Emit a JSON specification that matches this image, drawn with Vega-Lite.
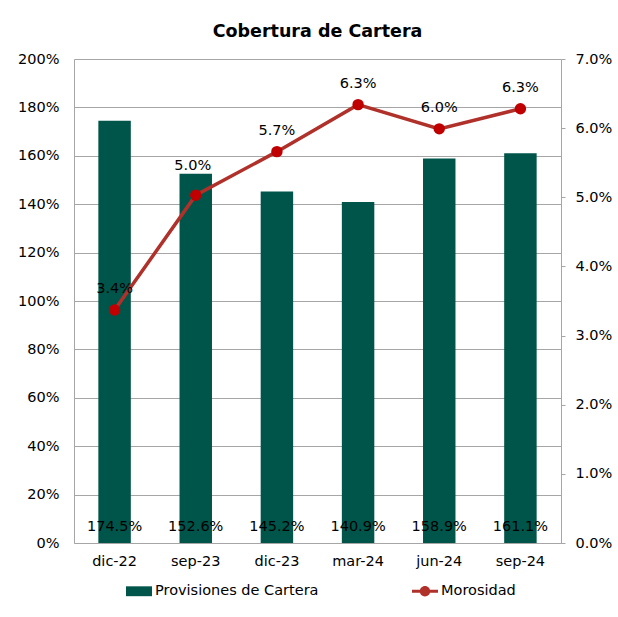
{
  "$schema": "https://vega.github.io/schema/vega-lite/v6.json",
  "width": 487,
  "height": 484,
  "autosize": {"type": "none"},
  "padding": {"left": 74, "top": 59, "right": 57, "bottom": 74},
  "background": "white",
  "config": {
    "font": "DejaVu Sans",
    "view": {"stroke": null},
    "axis": {"labelFont": "DejaVu Sans", "labelFontSize": 14.5, "labelColor": "black", "domainColor": "#a6a6a6", "gridColor": "#a6a6a6", "tickColor": "#a6a6a6"}
  },
  "title": {"text": "Cobertura de Cartera", "fontSize": 17.5, "fontWeight": "bold", "color": "black", "font": "DejaVu Sans", "anchor": "middle", "offset": 18, "baseline": "bottom", "dy": 25},
  "data": {
    "values": [
      {"periodo": "dic-22", "provisiones": 1.745, "morosidad": 0.0337},
      {"periodo": "sep-23", "provisiones": 1.526, "morosidad": 0.0503},
      {"periodo": "dic-23", "provisiones": 1.452, "morosidad": 0.0566},
      {"periodo": "mar-24", "provisiones": 1.409, "morosidad": 0.0634},
      {"periodo": "jun-24", "provisiones": 1.589, "morosidad": 0.0599},
      {"periodo": "sep-24", "provisiones": 1.611, "morosidad": 0.0628}
    ]
  },
  "encoding": {
    "x": {
      "field": "periodo", "type": "nominal", "sort": null,
      "scale": {"paddingInner": 0.6, "paddingOuter": 0.3},
      "axis": {"title": null, "labelAngle": 0, "ticks": false, "labelPadding": 11, "grid": false}
    }
  },
  "layer": [
    {
      "encoding": {
        "y": {
          "field": "provisiones", "type": "quantitative",
          "scale": {"domain": [0, 2]},
          "axis": {"title": null, "format": ".0%", "values": [0, 0.2, 0.4, 0.6, 0.8, 1, 1.2, 1.4, 1.6, 1.8, 2], "grid": true, "ticks": false, "labelPadding": 15}
        }
      },
      "layer": [
        {
          "mark": {"type": "bar"},
          "encoding": {
            "color": {
              "datum": "Provisiones de Cartera", "type": "nominal",
              "scale": {"domain": ["Provisiones de Cartera", "Morosidad"], "range": ["#00554A", "#B0302A"]},
              "legend": {
                "orient": "none", "legendX": 52, "legendY": 519, "direction": "horizontal", "title": null,
                "symbolSize": 676, "labelFontSize": 14.5, "labelColor": "black", "labelFont": "DejaVu Sans",
                "labelOffset": 3, "columnPadding": 93, "symbolStrokeWidth": 0, "labelLimit": 400,
                "encode": {
                  "symbols": {
                    "update": {
                      "shape": {"signal": "datum.value === 'Morosidad' ? 'M-1,-0.12H-0.3V0.12H-1Z M0.3,-0.12H1V0.12H0.3Z M0.4,0A0.4,0.4 0 1 1 -0.4,0A0.4,0.4 0 1 1 0.4,0Z' : 'M-1,-0.38H1V0.38H-1Z'"},
                      "fill": {"signal": "datum.value === 'Morosidad' ? '#C00000' : '#00554A'"},
                      "stroke": {"value": "transparent"},
                      "opacity": {"value": 1},
                      "fillOpacity": {"value": 1}
                    }
                  }
                }
              }
            }
          }
        },
        {
          "mark": {"type": "text", "baseline": "middle", "dy": -16, "fontSize": 14.5, "color": "black", "font": "DejaVu Sans"},
          "encoding": {
            "y": {"datum": 0, "type": "quantitative"},
            "text": {"field": "provisiones", "type": "quantitative", "format": ".1%"}
          }
        }
      ]
    },
    {
      "encoding": {
        "y": {
          "field": "morosidad", "type": "quantitative",
          "scale": {"domain": [0, 0.07]},
          "axis": {"title": null, "orient": "right", "format": ".1%", "values": [0, 0.01, 0.02, 0.03, 0.04, 0.05, 0.06, 0.07], "grid": false, "ticks": true, "tickSize": 4, "labelPadding": 10}
        }
      },
      "layer": [
        {
          "mark": {"type": "line", "strokeWidth": 3.5},
          "encoding": {"color": {"datum": "Morosidad", "type": "nominal"}}
        },
        {
          "mark": {"type": "point", "filled": true, "size": 130, "color": "#C00000", "opacity": 1},
          "encoding": {}
        },
        {
          "transform": [{"filter": "datum.periodo !== 'sep-23'"}],
          "mark": {"type": "text", "baseline": "middle", "dy": -21, "fontSize": 14.5, "color": "black", "font": "DejaVu Sans"},
          "encoding": {"text": {"field": "morosidad", "type": "quantitative", "format": ".1%"}}
        },
        {
          "transform": [{"filter": "datum.periodo === 'sep-23'"}],
          "mark": {"type": "text", "baseline": "middle", "dy": -29, "dx": -3, "fontSize": 14.5, "color": "black", "font": "DejaVu Sans"},
          "encoding": {"text": {"field": "morosidad", "type": "quantitative", "format": ".1%"}}
        }
      ]
    }
  ],
  "resolve": {"scale": {"y": "independent"}}
}
